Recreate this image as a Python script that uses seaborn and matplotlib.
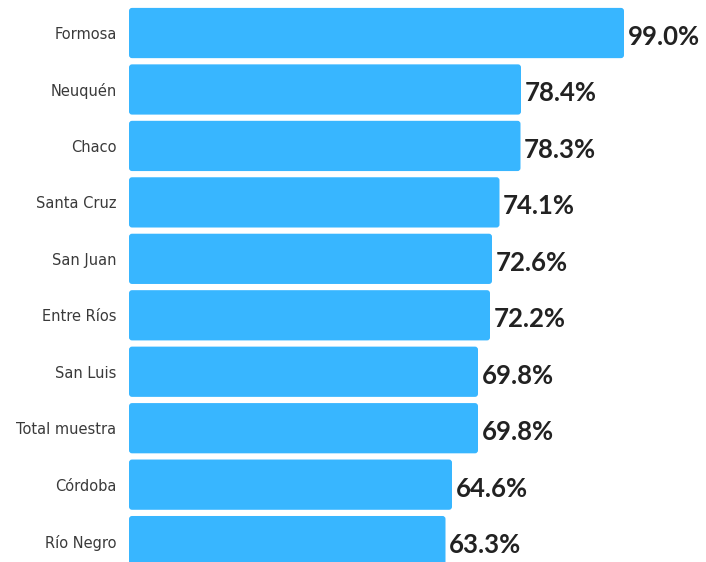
import pandas as pd
import matplotlib.pyplot as plt
import seaborn as sns
from matplotlib.patches import FancyBboxPatch

provincias = ['Formosa', 'Neuquén', 'Chaco', 'Santa Cruz', 'San Juan',
              'Entre Ríos', 'San Luis', 'Total muestra', 'Córdoba', 'Río Negro']
valores = [99.0, 78.4, 78.3, 74.1, 72.6, 72.2, 69.8, 69.8, 64.6, 63.3]

df = pd.DataFrame({'Provincia': provincias, 'Valor': valores})

sns.set_style('white')
plt.rcParams['font.family'] = ['DejaVu Sans']

fig = plt.figure(figsize=(7.06, 5.62), dpi=100)
ax = fig.add_axes([129 / 706, 0, 1 - 129 / 706, 1])

sns.barplot(data=df, x='Valor', y='Provincia', color='#38B6FF',
            width=0.89, saturation=1, ax=ax)

# esquinas redondeadas como en el original
for p in list(ax.patches):
    x, y = p.get_x(), p.get_y()
    w, h = p.get_width(), p.get_height()
    ax.add_patch(FancyBboxPatch((x, y), w, h,
                                boxstyle='round,pad=0,rounding_size=0.6',
                                mutation_aspect=0.0887,
                                facecolor=p.get_facecolor(), edgecolor='none'))
    p.remove()

for i, v in enumerate(valores):
    ax.text(v + 0.7, i + 0.07, f'{v:.1f}%', va='center', ha='left',
            fontsize=18.5, fontweight='bold', family='Lato',
            color='#222222')

ax.set_xlim(0, 115.4)
ax.set_ylim(9.37, -0.585)
ax.set_xlabel('')
ax.set_ylabel('')
ax.set_xticks([])
ax.tick_params(axis='y', length=0, pad=9, labelsize=10.5, labelcolor='#3a3a3a')
sns.despine(left=True, bottom=True)

fig.savefig('out.png', dpi=100)
